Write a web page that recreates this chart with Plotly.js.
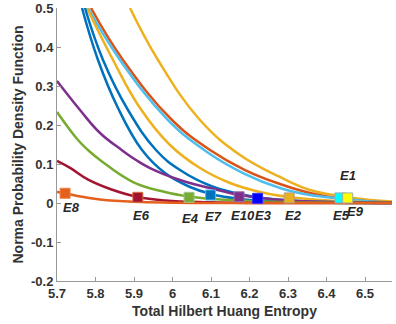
<!DOCTYPE html>
<html><head><meta charset="utf-8">
<script src="https://cdn.plot.ly/plotly-3.0.1.min.js"></script>
<style>html,body{margin:0;padding:0;background:#fff}#chart{width:396px;height:324px}</style>
</head><body><div id="chart"></div>
<script>
// Curves (x: entropy, y: density)
const xBlueA = [5.7649, 5.8065, 5.8584, 5.9208, 5.9805, 6.0455, 6.1000, 6.1753, 6.2792, 6.4091, 6.5701];
const yBlueA = [0.5, 0.3667, 0.2436, 0.1359, 0.0769, 0.0410, 0.0231, 0.0103, 0.0031, 0.0005, 0];
const xBlueB = [5.7727, 5.8195, 5.8844, 5.9571, 6.0195, 6.1000, 6.1753, 6.2221, 6.3052, 6.4351, 6.5701];
const yBlueB = [0.5, 0.3667, 0.2385, 0.1359, 0.0846, 0.0436, 0.0231, 0.0141, 0.0064, 0.0018, 0];
const xYellowA = [5.7779, 5.8455, 5.9156, 5.9935, 6.0714, 6.1494, 6.2273, 6.3026, 6.3831, 6.4870, 6.5701];
const yYellowA = [0.5, 0.3667, 0.2436, 0.1487, 0.0897, 0.0513, 0.0282, 0.0154, 0.0077, 0.0026, 0.0008];
const xLightBlue = [5.7805, 5.8636, 5.9883, 6.0896, 6.1831, 6.2792, 6.3571, 6.4351, 6.5130, 6.5701];
const yLightBlue = [0.5, 0.3667, 0.2128, 0.1308, 0.0769, 0.0385, 0.0205, 0.0115, 0.0038, 0.0013];
const xRed = [5.7883, 5.8714, 5.9987, 6.0974, 6.1883, 6.2792, 6.3571, 6.4351, 6.5130, 6.5701];
const yRed = [0.5, 0.3667, 0.2128, 0.1359, 0.0846, 0.0487, 0.0256, 0.0115, 0.0038, 0.0013];
const xYellowB = [5.8896, 5.9623, 6.0714, 6.1753, 6.2792, 6.3571, 6.4351, 6.5130, 6.5701];
const yYellowB = [0.5, 0.3667, 0.2128, 0.1231, 0.0667, 0.0333, 0.0179, 0.0077, 0.0038];
const xPurple = [5.7, 5.7597, 5.8117, 5.868, 5.9052, 5.9416, 6.0195, 6.0974, 6.1753, 6.2532, 6.3571, 6.487, 6.570];
const yPurple = [0.3128, 0.2385, 0.1795, 0.1359, 0.1103, 0.0897, 0.059, 0.0385, 0.0205, 0.0103, 0.0038, 0.0008, 0];
const xGreen = [5.7, 5.7545, 5.7805, 5.8117, 5.8974, 5.9805, 6.0429, 6.1234, 6.2273, 6.383, 6.570];
const yGreen = [0.2333, 0.1615, 0.1359, 0.1103, 0.0538, 0.0282, 0.0167, 0.009, 0.0038, 0.001, 0];
const xDarkRed = [5.7, 5.734, 5.781, 5.838, 5.910, 5.981, 6.097, 6.227, 6.570];
const yDarkRed = [0.108, 0.090, 0.060, 0.036, 0.0154, 0.0064, 0.0018, 0, 0];
const xOrange = [5.7, 5.721, 5.760, 5.812, 5.9, 6.0, 6.2, 6.57];
const yOrange = [0.028, 0.025, 0.0167, 0.009, 0.003, 0.0008, 0, 0];

// Markers
const markerNames = ['E8', 'E6', 'E4', 'E7', 'E10', 'E3', 'E2', 'E5', 'E9'];
const markerX = [5.721, 5.910, 6.043, 6.099, 6.173, 6.221, 6.303, 6.435, 6.455];
const markerY = [0.025, 0.0146, 0.0146, 0.0205, 0.016, 0.012, 0.013, 0.013, 0.013];
const markerColors = ['#E4601E', '#A2142F', '#77AC30', '#0072BD', '#7E2F8E', '#0000FF', '#EDB120', '#00FFFF', '#FFFF00'];
const markerEdges = ['#F08040', '#D9713A', '#9FC38A', '#4DBEEE', '#A070B0', '#3030FF', '#B0A080', '#8AB0C0', '#A0B0A0'];

// Labels
const labelNames = ['E8', 'E6', 'E4', 'E7', 'E10', 'E3', 'E2', 'E5', 'E9', 'E1'];
const labelX = [5.7364, 5.920, 6.0455, 6.1052, 6.1831, 6.237, 6.313, 6.440, 6.474, 6.456];
const labelY = [-0.0128, -0.0308, -0.0385, -0.035, -0.0308, -0.0308, -0.0308, -0.0308, -0.0223, 0.0718];

const FONT = 'Liberation Sans, Arial, sans-serif';

const curves = [
  {x: xYellowB, y: yYellowB, c: '#EDB120'},
  {x: xRed, y: yRed, c: '#D95319'},
  {x: xLightBlue, y: yLightBlue, c: '#4DBEEE'},
  {x: xYellowA, y: yYellowA, c: '#EDB120'},
  {x: xBlueB, y: yBlueB, c: '#0072BD'},
  {x: xBlueA, y: yBlueA, c: '#0072BD'},
  {x: xPurple, y: yPurple, c: '#7E2F8E'},
  {x: xGreen, y: yGreen, c: '#77AC30'},
  {x: xDarkRed, y: yDarkRed, c: '#A2142F'},
  {x: xOrange, y: yOrange, c: '#E4601E'}
];

const traces = curves.map(cv => ({
  type: 'scatter', mode: 'lines', x: cv.x, y: cv.y,
  line: {color: cv.c, width: 2.5, shape: 'spline', smoothing: 1.2},
  hoverinfo: 'skip', showlegend: false
}));
traces.push({
  type: 'scatter', mode: 'markers', x: markerX, y: markerY, text: markerNames,
  marker: {symbol: 'square', size: 10, color: markerColors, line: {color: markerEdges, width: 1}},
  showlegend: false
});

const annotations = labelNames.map((t, i) => ({
  x: labelX[i], y: labelY[i], xref: 'x', yref: 'y', text: '<b><i>' + t + '</i></b>',
  showarrow: false, font: {family: FONT, size: 13, color: '#262626'}
}));

const axisCommon = {
  showgrid: false, zeroline: false, showline: true, linecolor: '#999999', linewidth: 1,
  ticks: 'inside', ticklen: 4, tickcolor: '#999999', mirror: false,
  tickfont: {family: FONT, size: 13, color: '#333333', weight: 'bold'}
};

const layout = {
  width: 396, height: 324,
  margin: {l: 57, r: 4, t: 8, b: 43},
  paper_bgcolor: '#ffffff', plot_bgcolor: '#ffffff',
  showlegend: false,
  xaxis: Object.assign({}, axisCommon, {
    range: [5.7, 6.5701], tickvals: [5.7, 5.8, 5.9, 6, 6.1, 6.2, 6.3, 6.4, 6.5],
    ticktext: ['5.7', '5.8', '5.9', '6', '6.1', '6.2', '6.3', '6.4', '6.5'],
    title: {text: '<b>Total Hilbert Huang Entropy</b>', standoff: 6,
      font: {family: FONT, size: 14, color: '#333333'}}
  }),
  yaxis: Object.assign({}, axisCommon, {
    range: [-0.2, 0.5], tickvals: [-0.2, -0.1, 0, 0.1, 0.2, 0.3, 0.4, 0.5],
    ticktext: ['-0.2', '-0.1', '0', '0.1', '0.2', '0.3', '0.4', '0.5'],
    title: {text: '<b>Norma Probability Density Function</b>', standoff: 4,
      font: {family: FONT, size: 14, color: '#333333'}}
  }),
  annotations: annotations
};

Plotly.newPlot('chart', traces, layout, {displayModeBar: false, staticPlot: true});
</script>
</body></html>
